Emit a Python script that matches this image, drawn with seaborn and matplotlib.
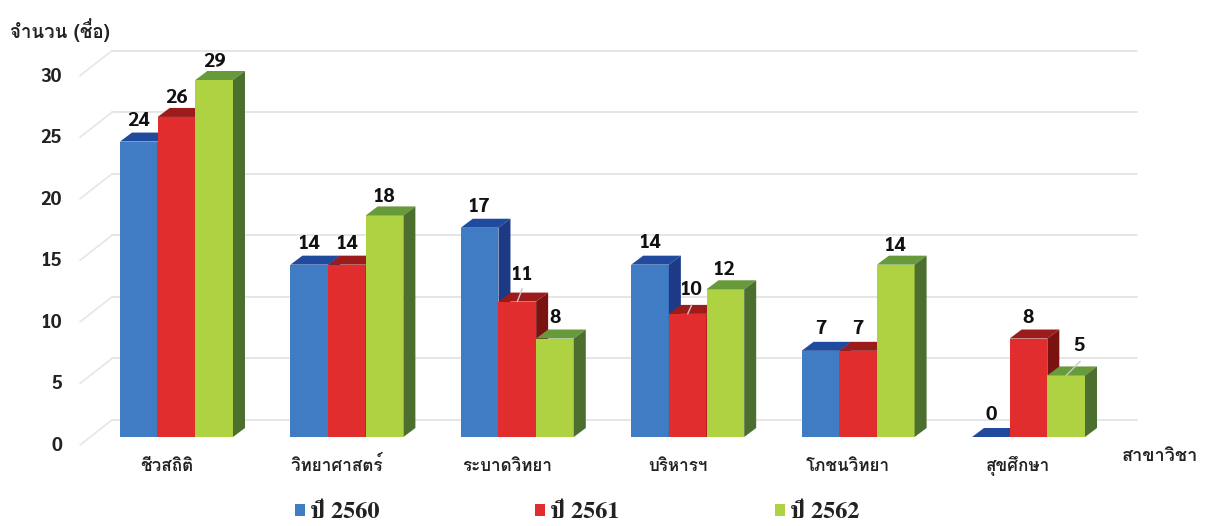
"""Grouped bar chart with a drawn 3D look: seaborn draws the front faces, tops and sides follow them."""
import matplotlib
matplotlib.use("Agg")
import matplotlib.pyplot as plt
import matplotlib.transforms as mtrans
import pandas as pd
import seaborn as sns

# Data
faculties = ["ชีวสถิติ", "วิทยาศาสตร์", "ระบาดวิทยา", "บริหารฯ", "โภชนวิทยา", "สุขศึกษา"]
years = ["ปี 2560", "ปี 2561", "ปี 2562"]
y2560 = [24, 14, 17, 14, 7, 0]
y2561 = [26, 14, 11, 10, 7, 8]
y2562 = [29, 18, 8, 12, 14, 5]
y_ticks = [0, 5, 10, 15, 20, 25, 30]

# Colours per series: front, top, side
front_colors = ["#3f7cc4", "#e12d2d", "#aed241"]
top_colors = ["#1f4a9e", "#9c1c1c", "#669a3a"]
side_colors = ["#1c3a85", "#7a1212", "#4c6f2f"]

# Label nudges in pixels (x, y above the front top of the bar)
label_px = [
    [(0, 21), (0, 21), (0, 21), (0, 22), (0, 22), (0, 22)],
    [(0, 19), (0, 21), (5, 27), (4, 24), (0, 22), (0, 21)],
    [(0, 18), (0, 18), (0, 21), (-1, 19), (0, 19), (13, 29)],
]
leaders_px = {(1, 2): (5, 13), (1, 3): (4, 9), (2, 5): (14, 14)}

PX_PER_CAT = 170.4
PX_PER_UNIT = 12.31
FLOOR_PX = 437
LEFT_PX, RIGHT_PX, TOP_PX = 80, 1137, 40
BAR_DX, BAR_DY = 12 / PX_PER_CAT, 9 / PX_PER_UNIT
WALL_DX, WALL_DY, WALL_FRONT = 32 / PX_PER_CAT, 17 / PX_PER_UNIT, 8 / PX_PER_UNIT
TEXT_COLOR = "#222222"
GRID_COLOR = "#e6e6e6"
PX = 0.72  # points per pixel at dpi 100
DIGIT_FONT = ["Sarabun", "DejaVu Sans"]

sns.set_style("white")
plt.rcParams["font.family"] = ["Loma", "DejaVu Sans"]
plt.rcParams["text.color"] = TEXT_COLOR

fig = plt.figure(figsize=(12.05, 5.26), dpi=100)
ax = fig.add_axes([LEFT_PX / 1205, (526 - FLOOR_PX) / 526,
                   (RIGHT_PX - LEFT_PX) / 1205, (FLOOR_PX - TOP_PX) / 526])

df = pd.DataFrame({"faculty": faculties, years[0]: y2560, years[1]: y2561, years[2]: y2562})
long_df = df.melt(id_vars="faculty", var_name="year", value_name="count")

sns.barplot(data=long_df, x="faculty", y="count", hue="year", palette=front_colors,
            saturation=1, width=0.663, linewidth=0, ax=ax)

x_left = (LEFT_PX - 176.5) / PX_PER_CAT
x_right = (RIGHT_PX - 176.5) / PX_PER_CAT

# Back wall grid and the diagonals on the left
for v in y_ticks:
    ax.plot([x_left + WALL_DX, x_right], [v + WALL_DY, v + WALL_DY], color=GRID_COLOR, lw=1.4,
            zorder=0, clip_on=False)
    ax.plot([x_left, x_left + WALL_DX], [v - WALL_FRONT, v + WALL_DY], color=GRID_COLOR, lw=1.2,
            zorder=0, clip_on=False)

# Top and side faces follow the seaborn bars
for s, container in enumerate(ax.containers):
    for i, bar in enumerate(container):
        z = 3 + s
        bar.set_zorder(z)
        x0, x1, h = bar.get_x(), bar.get_x() + bar.get_width(), bar.get_height()
        ax.fill([x0, x0 + BAR_DX, x1 + BAR_DX, x1], [h, h + BAR_DY, h + BAR_DY, h],
                color=top_colors[s], lw=0, zorder=z)
        ax.fill([x1, x1 + BAR_DX, x1 + BAR_DX, x1], [0, BAR_DY, h + BAR_DY, h],
                color=side_colors[s], lw=0, zorder=z)
        cx = (x0 + x1) / 2
        nx, ny = label_px[s][i]
        ax.annotate(str(int(h)), xy=(cx, h), xytext=(nx * PX, ny * PX), textcoords="offset points",
                    ha="center", va="center", fontsize=14.5, fontweight="bold", color="#111111",
                    family=DIGIT_FONT, zorder=10, annotation_clip=False)
        if (s, i) in leaders_px:
            lx, ly = leaders_px[(s, i)]
            ax.annotate("", xy=(cx, h), xytext=(lx * PX, ly * PX), textcoords="offset points",
                        arrowprops=dict(arrowstyle="-", color="#c8c8c8", lw=1, shrinkA=0, shrinkB=0),
                        zorder=9)

ax.set_xlim(x_left, x_right)
ax.set_ylim(0, (FLOOR_PX - TOP_PX) / PX_PER_UNIT)
ax.set_yticks(y_ticks)
ax.set_xlabel("")
ax.set_ylabel("")
ax.patch.set_alpha(0)
sns.despine(ax=ax, left=True, bottom=True)

ax.tick_params(axis="y", length=0, pad=18 * PX, labelsize=13.6, labelcolor=TEXT_COLOR)
ax.tick_params(axis="x", length=0, pad=34 * PX, labelsize=12.3, labelcolor=TEXT_COLOR)
for label in ax.get_yticklabels():
    label.set_fontweight("bold")
    label.set_family(DIGIT_FONT)
    label.set_transform(label.get_transform() + mtrans.ScaledTranslation(0, -7 / 100, fig.dpi_scale_trans))
for label in ax.get_xticklabels():
    label.set_fontweight("bold")
    label.set_verticalalignment("baseline")
    label.set_transform(label.get_transform() + mtrans.ScaledTranslation(-10 / 100, 0, fig.dpi_scale_trans))

fig.text(10 / 1205, 1 - 30 / 526, "จำนวน (ชื่อ)", fontsize=13.4, fontweight="bold", va="center")
fig.text(1122 / 1205, 1 - 456 / 526, "สาขาวิชา", fontsize=13, fontweight="bold", va="center")

sns.move_legend(ax, "center", bbox_to_anchor=(577 / 1205, 1 - 513 / 526),
                bbox_transform=fig.transFigure, ncol=3, title=None, frameon=False,
                handlelength=0.42, handleheight=0.42, handletextpad=0.2, columnspacing=6.4,
                borderpad=0, prop={"family": ["FreeSerif", "DejaVu Serif"], "weight": "bold", "size": 17.5})

fig.savefig("out.png", dpi=100)
